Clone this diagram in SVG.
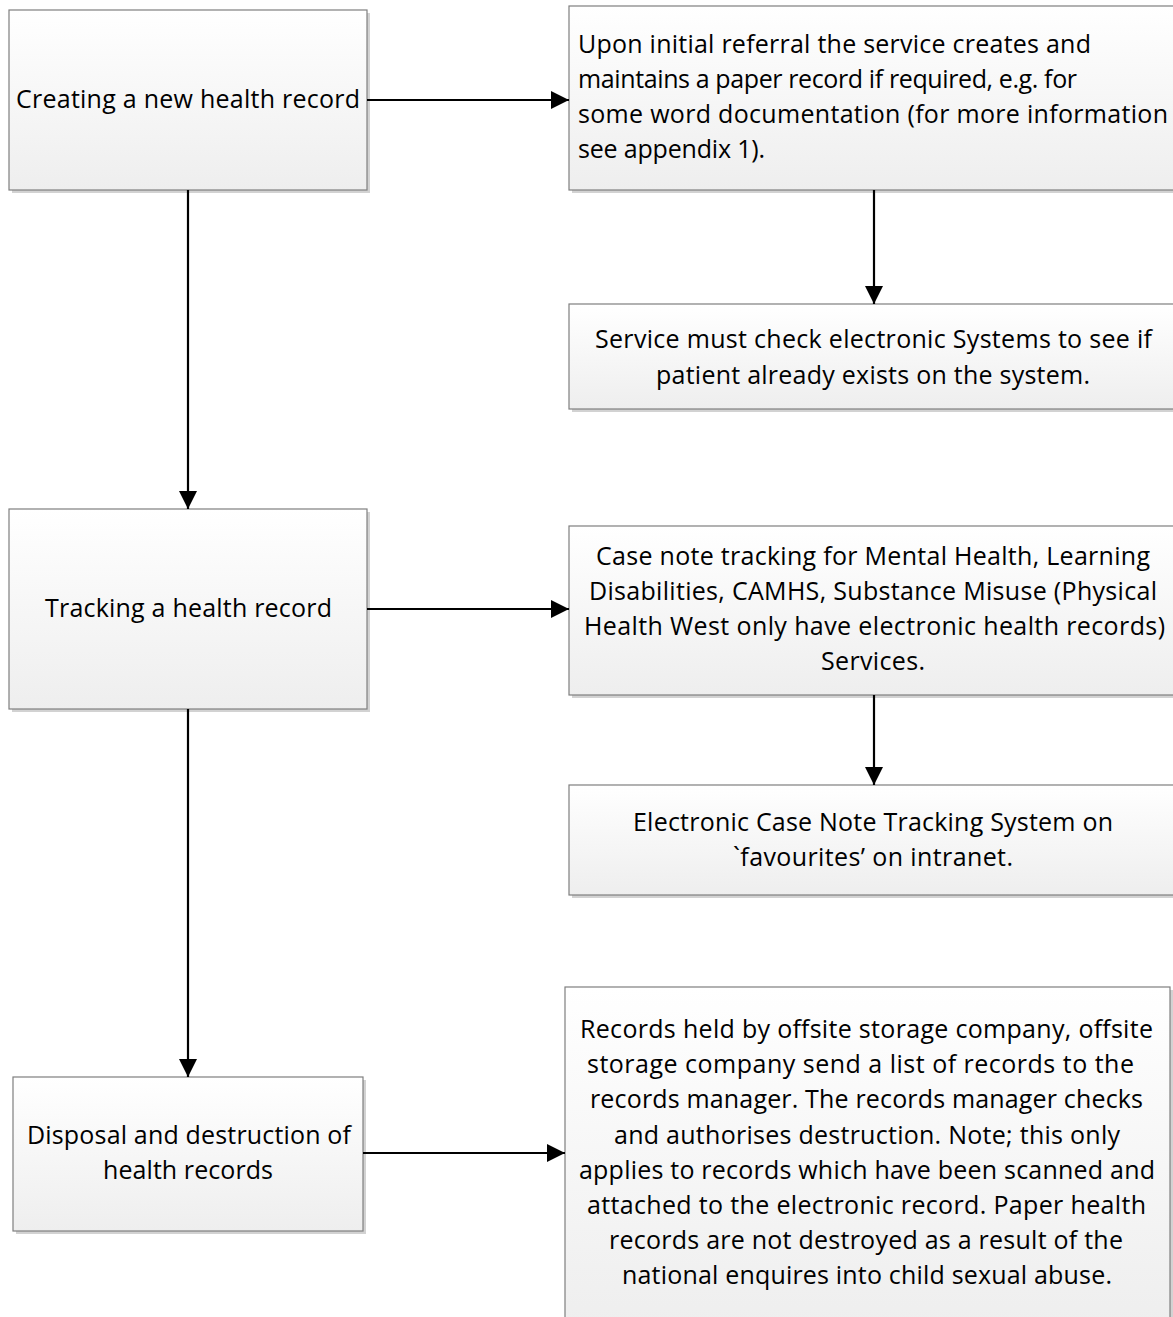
<svg xmlns="http://www.w3.org/2000/svg" width="1173" height="1317" viewBox="0 0 1173 1317">
  <style>
    .box { fill: url(#boxFill); stroke: #7f7f7f; stroke-width: 1.2; }
    .shadow { fill: #d2d2d2; }
    .label { font-family: "Open Sans", "Noto Sans", sans-serif; font-size: 25px; fill: #000; }
    .mid { text-anchor: middle; }
    .conn { fill: none; stroke: #000; stroke-width: 2.2; marker-end: url(#arrow); }
  </style>
  <defs>
    <linearGradient id="boxFill" x1="0" y1="0" x2="0" y2="1">
      <stop offset="0" stop-color="#ffffff"/>
      <stop offset="1" stop-color="#eeeeee"/>
    </linearGradient>
    <marker id="arrow" markerUnits="userSpaceOnUse" markerWidth="18" markerHeight="18" refX="18" refY="9" orient="auto">
      <path d="M0,0 L18,9 L0,18 Z" fill="#000"/>
    </marker>
  </defs>

  <!-- Creating a new health record -->
  <g id="create">
    <rect class="shadow" x="12" y="13" width="358" height="180"/>
    <rect class="box" x="9" y="10" width="358" height="180"/>
    <text class="label mid" x="188" y="108" textLength="344">Creating a new health record</text>
  </g>

  <!-- Paper record on referral -->
  <g id="paper-record">
    <rect class="shadow" x="572" y="9" width="620" height="184"/>
    <rect class="box" x="569" y="6" width="620" height="184"/>
    <text class="label" x="578" y="53" textLength="513">Upon initial referral the service creates and</text>
    <text class="label" x="578" y="88" textLength="499">maintains a paper record if required, e.g. for</text>
    <text class="label" x="578" y="123" textLength="590">some word documentation (for more information</text>
    <text class="label" x="578" y="158" textLength="187">see appendix 1).</text>
  </g>

  <!-- Check electronic systems -->
  <g id="check-systems">
    <rect class="shadow" x="572" y="307" width="620" height="105"/>
    <rect class="box" x="569" y="304" width="620" height="105"/>
    <text class="label mid" x="873.5" y="348" textLength="557">Service must check electronic Systems to see if</text>
    <text class="label mid" x="873" y="384" textLength="434">patient already exists on the system.</text>
  </g>

  <!-- Tracking a health record -->
  <g id="tracking">
    <rect class="shadow" x="12" y="512" width="358" height="200"/>
    <rect class="box" x="9" y="509" width="358" height="200"/>
    <text class="label mid" x="188.5" y="617" textLength="287">Tracking a health record</text>
  </g>

  <!-- Case note tracking -->
  <g id="case-notes">
    <rect class="shadow" x="572" y="529" width="620" height="169"/>
    <rect class="box" x="569" y="526" width="620" height="169"/>
    <text class="label mid" x="873" y="565" textLength="554">Case note tracking for Mental Health, Learning</text>
    <text class="label mid" x="873" y="600" textLength="568">Disabilities, CAMHS, Substance Misuse (Physical</text>
    <text class="label mid" x="874.5" y="635" textLength="581">Health West only have electronic health records)</text>
    <text class="label mid" x="873" y="670" textLength="104">Services.</text>
  </g>

  <!-- Electronic tracking system -->
  <g id="tracking-system">
    <rect class="shadow" x="572" y="788" width="620" height="110"/>
    <rect class="box" x="569" y="785" width="620" height="110"/>
    <text class="label mid" x="873" y="831" textLength="480">Electronic Case Note Tracking System on</text>
    <text class="label mid" x="873" y="866" textLength="280">`favourites’ on intranet.</text>
  </g>

  <!-- Disposal and destruction -->
  <g id="disposal">
    <rect class="shadow" x="16" y="1080" width="350" height="154"/>
    <rect class="box" x="13" y="1077" width="350" height="154"/>
    <text class="label mid" x="189" y="1144" textLength="324">Disposal and destruction of</text>
    <text class="label mid" x="188" y="1179" textLength="170">health records</text>
  </g>

  <!-- Offsite storage destruction process -->
  <g id="offsite-storage">
    <rect class="shadow" x="568" y="990" width="605" height="340"/>
    <rect class="box" x="565" y="987" width="605" height="340"/>
    <text class="label mid" x="866.5" y="1038" textLength="573">Records held by offsite storage company, offsite</text>
    <text class="label mid" x="860.5" y="1073" textLength="547">storage company send a list of records to the</text>
    <text class="label mid" x="866.5" y="1108" textLength="553">records manager. The records manager checks</text>
    <text class="label mid" x="867" y="1144" textLength="506">and authorises destruction. Note; this only</text>
    <text class="label mid" x="867" y="1179" textLength="576">applies to records which have been scanned and</text>
    <text class="label mid" x="866.5" y="1214" textLength="559">attached to the electronic record. Paper health</text>
    <text class="label mid" x="866" y="1249" textLength="514">records are not destroyed as a result of the</text>
    <text class="label mid" x="867" y="1284" textLength="490">national enquires into child sexual abuse.</text>
  </g>

  <!-- Connectors -->
  <g id="connectors">
    <path class="conn" d="M367,100 H569"/>
    <path class="conn" d="M188,190 V509"/>
    <path class="conn" d="M874,190 V304"/>
    <path class="conn" d="M367,609 H569"/>
    <path class="conn" d="M874,695 V785"/>
    <path class="conn" d="M188,709 V1077"/>
    <path class="conn" d="M363,1153 H565"/>
  </g>
</svg>
